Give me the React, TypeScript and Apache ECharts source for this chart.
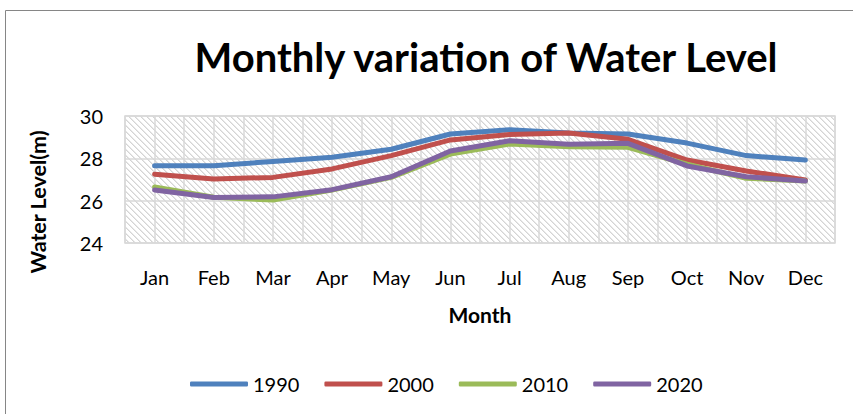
import React, { useEffect, useRef } from "react";
import * as echarts from "echarts";

const months = ["Jan", "Feb", "Mar", "Apr", "May", "Jun", "Jul", "Aug", "Sep", "Oct", "Nov", "Dec"];
const y1990 = [27.65, 27.65, 27.85, 28.05, 28.43, 29.15, 29.35, 29.2, 29.15, 28.72, 28.13, 27.92];
const y2000 = [27.25, 27.02, 27.1, 27.5, 28.13, 28.87, 29.13, 29.2, 28.9, 27.92, 27.4, 26.98];
const y2010 = [26.65, 26.16, 26.03, 26.5, 27.1, 28.2, 28.68, 28.55, 28.52, 27.72, 27.06, 26.93];
const y2020 = [26.5, 26.15, 26.18, 26.52, 27.13, 28.35, 28.83, 28.66, 28.71, 27.64, 27.13, 26.93];
const seriesNames = ["1990", "2000", "2010", "2020"];
const seriesColors = ["#4F81BD", "#C0504D", "#9BBB59", "#8064A2"];

const FONT = "Lato, Carlito, Calibri, sans-serif";

function makeHatch(): string {
  const c = document.createElement("canvas");
  const n = 6;
  c.width = n;
  c.height = n;
  const ctx = c.getContext("2d");
  if (!ctx) return "";
  ctx.fillStyle = "#ffffff";
  ctx.fillRect(0, 0, n, n);
  for (let y = 0; y < n; y++) {
    ctx.fillStyle = "#d4d4d4";
    ctx.fillRect(y, y, 1, 1);
    ctx.fillStyle = "#e8e8e8";
    ctx.fillRect((y + 1) % n, y, 1, 1);
  }
  return c.toDataURL();
}

export default function App() {
  const ref = useRef<HTMLDivElement>(null);
  useEffect(() => {
    if (!ref.current) return;
    const chart = echarts.init(ref.current, undefined, { renderer: "svg" });
    const hatch = makeHatch();
    const data = [y1990, y2000, y2010, y2020];
    chart.setOption({
      animation: false,
      backgroundColor: "#ffffff",
      textStyle: { fontFamily: FONT },
      grid: {
        left: 125,
        top: 116,
        width: 710,
        height: 127,
        show: true,
        backgroundColor: { image: hatch, repeat: "repeat", imageWidth: 6, imageHeight: 6 } as any,
        borderColor: "#d9d9d9",
        borderWidth: 1.5,
      },
      legend: {
        left: 185,
        top: 369,
        icon: "roundRect",
        itemWidth: 58,
        itemHeight: 5,
        itemGap: 25,
        data: seriesNames,
        textStyle: { fontFamily: FONT, fontSize: 20, color: "#000", padding: [0, 0, 0, 0] },
      },
      xAxis: [
        {
          type: "category",
          data: months,
          boundaryGap: true,
          axisLine: { show: false },
          axisTick: { show: false },
          splitLine: { show: false },
          axisLabel: { fontFamily: FONT, fontSize: 20, color: "#000", margin: 24 },
          name: "Month",
          nameLocation: "middle",
          nameGap: 61,
          nameTextStyle: { fontFamily: FONT, fontSize: 21, fontWeight: "bold", color: "#000" },
        },
        {
          type: "value",
          min: 0,
          max: 24,
          interval: 1,
          position: "bottom",
          axisLine: { show: false },
          axisTick: { show: false },
          axisLabel: { show: false },
          splitLine: { show: true, lineStyle: { color: "#d9d9d9", width: 1.5 } },
        },
      ],
      yAxis: {
        type: "value",
        min: 24,
        max: 30,
        interval: 2,
        axisLine: { show: false },
        axisTick: { show: false },
        axisLabel: { fontFamily: FONT, fontSize: 20, color: "#000", margin: 22 },
        splitLine: { show: true, lineStyle: { color: "#d9d9d9", width: 1.5 } },
      },
      graphic: [
        {
          type: "rect",
          z: -10,
          shape: { x: 5.5, y: 10.5, width: 900, height: 500 },
          style: { fill: "none", stroke: "#868686", lineWidth: 1 },
        },
        {
          type: "text",
          x: 486,
          y: 57,
          style: {
            text: "Monthly variation of Water Level",
            fontFamily: FONT,
            fontSize: 40,
            fontWeight: "bold",
            fill: "#000",
            align: "center",
            verticalAlign: "middle",
          },
        },
        {
          type: "text",
          x: 38,
          y: 202,
          rotation: Math.PI / 2,
          style: {
            text: "Water Level(m)",
            fontFamily: FONT,
            fontSize: 21.5,
            fontWeight: "bold",
            fill: "#000",
            align: "center",
            verticalAlign: "middle",
          },
        },
      ],
      series: seriesNames.map((name, i) => ({
        name,
        type: "line",
        xAxisIndex: 0,
        data: data[i],
        symbol: "none",
        color: seriesColors[i],
        lineStyle: { width: 5, color: seriesColors[i], cap: "round", join: "round" },
      })),
    });
    return () => chart.dispose();
  }, []);
  return (
    <div
      ref={ref}
      style={{ position: "absolute", left: 0, top: 0, width: 853, height: 414 }}
    />
  );
}
